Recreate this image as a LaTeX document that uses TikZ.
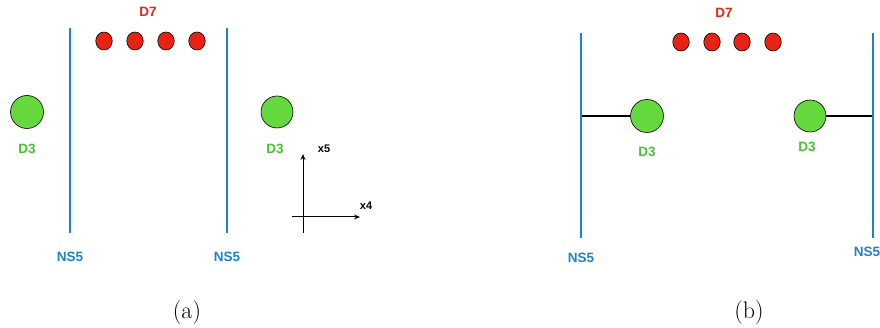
\documentclass[tikz,border=0pt]{standalone}
\usepackage{fontspec}
\setsansfont{Liberation Sans}
\usetikzlibrary{arrows.meta,shapes.geometric}
\definecolor{nsblue}{RGB}{30,130,200}
\definecolor{dsred}{RGB}{232,35,20}
\definecolor{dgfill}{RGB}{100,216,60}
\definecolor{dgtext}{RGB}{70,195,50}
\tikzset{
  lab/.style={font=\sffamily\bfseries\fontsize{13.5}{15}\selectfont, inner sep=0pt},
  nslab/.style={lab, text=nsblue},
  d7lab/.style={lab, text=dsred},
  d3lab/.style={lab, text=dgtext},
  axlab/.style={lab, text=black, font=\sffamily\bfseries\fontsize{11}{12}\selectfont},
  ns/.style={draw=nsblue, line width=2pt},
  d7/.style={ellipse, draw=black, line width=0.6pt, fill=dsred, minimum width=16.5pt, minimum height=18pt, inner sep=0pt},
  d3/.style={circle, draw=black, line width=0.6pt, fill=dgfill, minimum size=33pt, inner sep=0pt},
  link/.style={draw=black, line width=2.2pt},
  ax/.style={draw=black, line width=1pt, -{Stealth[length=6pt,width=5pt]}},
  sublab/.style={inner sep=0pt, font=\fontsize{24}{28}\selectfont}
}
\begin{document}
\begin{tikzpicture}[x=1pt,y=-1pt]
\useasboundingbox (0,0) rectangle (880,328);
% ---------- panel (a)
\coordinate (a1t) at (70,28); \coordinate (a1b) at (70,233);
\coordinate (a2t) at (227,28); \coordinate (a2b) at (227,233);
\draw[ns] (a1t) -- (a1b);
\draw[ns] (a2t) -- (a2b);
\node[nslab] (ans1) at (70,257) {NS5};
\node[nslab] (ans2) at (227,257) {NS5};
\node[d7lab] (ad7) at (148,12) {D7};
\node[d7] (ar1) at (104,41) {};
\node[d7] (ar2) at (135,41) {};
\node[d7] (ar3) at (166,41) {};
\node[d7] (ar4) at (197,41) {};
\node[d3] (ag1) at (27,112) {};
\node[d3, minimum size=32pt] (ag2) at (277,112) {};
\node[d3lab] (ad31) at (27,149) {D3};
\node[d3lab] (ad32) at (275,149) {D3};
\coordinate (vb) at (303,233); \coordinate (vt) at (303,154);
\coordinate (hl) at (292,217); \coordinate (hr) at (360,217);
\draw[ax] (vb) -- (vt);
\draw[ax] (hl) -- (hr);
\node[axlab] (x5) at (324,149) {x5};
\node[axlab] (x4) at (366,206) {x4};
\node[sublab] (capa) at (187,313) {(a)};
% ---------- panel (b)
\coordinate (b1t) at (581,33); \coordinate (b1b) at (581,238);
\coordinate (b2t) at (873,33); \coordinate (b2b) at (873,238);
\node[nslab] (bns1) at (581,258) {NS5};
\node[nslab] (bns2) at (867,252) {NS5};
\node[d7lab] (bd7) at (724,13) {D7};
\node[d7] (br1) at (681,42) {};
\node[d7] (br2) at (712,42) {};
\node[d7] (br3) at (742,42) {};
\node[d7] (br4) at (773,42) {};
\node[d3] (bg1) at (647,116) {};
\node[d3, minimum size=32pt] (bg2) at (810,116) {};
\coordinate (bj1) at (581,116);
\coordinate (bj2) at (873,116);
\draw[link] (bj1) -- (bg1);
\draw[link] (bg2) -- (bj2);
\draw[ns] (b1t) -- (b1b);
\draw[ns] (b2t) -- (b2b);
\node[d3lab] (bd31) at (647,152) {D3};
\node[d3lab] (bd32) at (807,147) {D3};
\node[sublab] (capb) at (749,313) {(b)};
\end{tikzpicture}
\end{document}
